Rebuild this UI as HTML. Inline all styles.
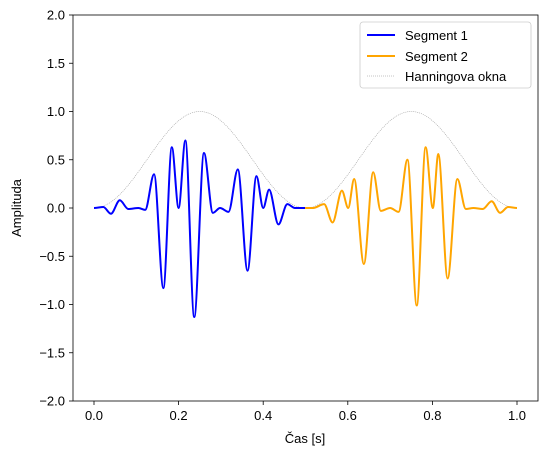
<!DOCTYPE html>
<html><head><meta charset="utf-8"><style>
body{margin:0;background:#fff}
svg{font-family:"Liberation Sans","DejaVu Sans",sans-serif}
</style></head><body>
<svg id="chart" width="547" height="455" viewBox="0 0 547 455">
<rect width="547" height="455" fill="#fff"/>
<g id="win"></g>
<g id="series"></g>
<rect x="73" y="15" width="465" height="386" fill="none" stroke="#000" stroke-width="0.8"/>
<g id="axes" font-size="13" fill="#000"></g>
<text x="305" y="443" text-anchor="middle" font-size="13">Čas [s]</text>
<text transform="translate(21,208) rotate(-90)" text-anchor="middle" font-size="13">Amplituda</text>
<g>
<rect x="360" y="22" width="171" height="66" rx="3" fill="#fff" fill-opacity="0.8" stroke="#ccc" stroke-width="0.8"/>
<g><line x1="367" y1="35" x2="395" y2="35" stroke="blue" stroke-width="2"/><text x="405" y="40" font-size="13">Segment 1</text></g>
<g><line x1="367" y1="56" x2="395" y2="56" stroke="orange" stroke-width="2"/><text x="405" y="61" font-size="13">Segment 2</text></g>
<g><line x1="367" y1="76" x2="395" y2="76" stroke="#888" stroke-width="0.5" stroke-dasharray="1,1"/><text x="405" y="81" font-size="13">Hanningova okna</text></g>
</g>
</svg>
<script>
const seg1T=[0,0.022,0.040,0.061,0.081,0.105,0.121,0.142,0.164,0.184,0.200,0.216,0.237,0.260,0.281,0.298,0.318,0.340,0.363,0.384,0.400,0.414,0.436,0.457,0.475,0.499];
const seg1V=[0,0.01,-0.06,0.08,-0.01,0,-0.02,0.35,-0.83,0.63,0,0.70,-1.13,0.57,-0.05,0,-0.04,0.40,-0.65,0.33,0,0.19,-0.17,0.04,0,0];
const seg2T=[0.499,0.518,0.544,0.564,0.586,0.601,0.615,0.638,0.660,0.678,0.700,0.720,0.741,0.763,0.784,0.801,0.814,0.836,0.859,0.879,0.897,0.919,0.940,0.960,0.979,1.0];
const seg2V=[0,0,0.04,-0.15,0.18,0,0.30,-0.58,0.37,-0.03,0,-0.04,0.50,-1.01,0.63,0,0.56,-0.73,0.30,-0.01,0,-0.01,0.07,-0.05,0.01,0];
const windowStarts=[0,0.5];
const windowLen=0.5;
const xTicks=[0.0,0.2,0.4,0.6,0.8,1.0];
const yTicks=[-2.0,-1.5,-1.0,-0.5,0.0,0.5,1.0,1.5,2.0];
const NS="http://www.w3.org/2000/svg";
const X=t=>94+t*423, Y=v=>208-v*96.5;
function mk(tag,attrs,parent){const e=document.createElementNS(NS,tag);for(const k in attrs)e.setAttribute(k,attrs[k]);parent.appendChild(e);return e;}
function smooth(T,V){let d=`M${X(T[0]).toFixed(2)},${Y(V[0]).toFixed(2)}`;
 for(let i=0;i<T.length-1;i++){const x0=X(T[i]),x1=X(T[i+1]),y0=Y(V[i]),y1=Y(V[i+1]),dx=(x1-x0)/3;
  d+=` C${(x0+dx).toFixed(2)},${y0.toFixed(2)} ${(x1-dx).toFixed(2)},${y1.toFixed(2)} ${x1.toFixed(2)},${y1.toFixed(2)}`;}
 return d;}
const win=document.getElementById('win');
windowStarts.forEach((s,i)=>{let d='';for(let k=0;k<=100;k++){const t=s+windowLen*k/100;const v=0.5-0.5*Math.cos(2*Math.PI*k/100);d+=(k?'L':'M')+X(t).toFixed(2)+','+Y(v).toFixed(2);}
 const p=mk('path',{d:d,fill:'none',stroke:'#999','stroke-width':0.6,'stroke-dasharray':'1,1'},win);
 
 });
const sg=document.getElementById('series');
const p1=mk('path',{d:smooth(seg1T,seg1V),fill:'none',stroke:'blue','stroke-width':2},sg);


const p2=mk('path',{d:smooth(seg2T,seg2V),fill:'none',stroke:'orange','stroke-width':2},sg);


const ax=document.getElementById('axes');
xTicks.forEach(t=>{const x=X(t);mk('line',{x1:x,y1:401,x2:x,y2:405,stroke:'#000','stroke-width':0.8},ax);
 const tx=mk('text',{x:x,y:420,'text-anchor':'middle'},ax);tx.textContent=t.toFixed(1);
 
 });
yTicks.forEach(v=>{const y=Y(v);mk('line',{x1:69,y1:y,x2:73,y2:y,stroke:'#000','stroke-width':0.8},ax);
 const tx=mk('text',{x:65,y:y+4.5,'text-anchor':'end'},ax);tx.textContent=(v<0?'\u2212':'')+Math.abs(v).toFixed(1);
 
 });
</script>
</body></html>
